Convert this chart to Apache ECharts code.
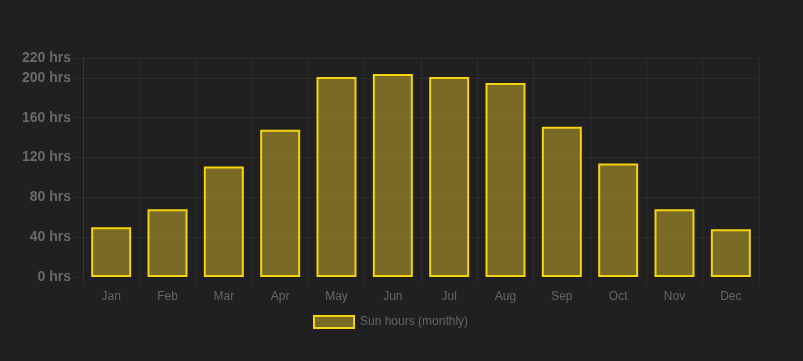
<!DOCTYPE html>
<html><head><meta charset="utf-8">
<script src="https://cdn.jsdelivr.net/npm/echarts@6/dist/echarts.min.js"></script>
<style>html,body{margin:0;padding:0;background:#202020;}#c{width:803px;height:361px;}</style>
</head><body><div id="c"></div>
<script>
const months = ['Jan','Feb','Mar','Apr','May','Jun','Jul','Aug','Sep','Oct','Nov','Dec'];
const sunHours = [50, 68, 111, 148, 201, 204, 201, 195, 151, 114, 68, 48];
const seriesName = 'Sun hours (monthly)';
const yMin = 0, yMax = 220, yInterval = 40;

const chart = echarts.init(document.getElementById('c'), null, {renderer:'canvas'});
const gridColor = 'rgba(255,255,255,0.05)';
chart.setOption({
  backgroundColor: '#202020',
  animation: false,
  textStyle: {fontFamily: 'Arial, "Liberation Sans", sans-serif'},
  grid: {left: 83, right: 44, top: 58, bottom: 84},
  legend: {
    top: 310, left: 308, itemWidth: 40, itemHeight: 12, itemGap: 10,
    textStyle: {color: '#666', fontSize: 12, padding: [0,0,0,1]},
    data: [{name: seriesName, icon: 'rect'}]
  },
  xAxis: {
    type: 'category', data: months,
    axisLine: {show: true, lineStyle: {color: 'rgba(0,0,0,0.35)'}},
    axisTick: {show: true, length: 7, lineStyle: {color: gridColor}},
    splitLine: {show: true, lineStyle: {color: gridColor}},
    axisLabel: {color: '#666', fontSize: 12, margin: 14}
  },
  yAxis: {
    type: 'value', min: yMin, max: yMax, interval: yInterval,
    axisLine: {show: true, lineStyle: {color: gridColor}},
    axisTick: {show: true, length: 9, lineStyle: {color: gridColor}},
    splitLine: {show: true, lineStyle: {color: gridColor}},
    axisLabel: {color: '#6a6a6a', fontSize: 14, fontWeight: 'bold', margin: 12,
      formatter: v => v + ' hrs'}
  },
  series: [{
    name: seriesName, type: 'bar', data: sunHours,
    barCategoryGap: '29%',
    itemStyle: {color: 'rgba(255,220,45,0.4)', borderColor: '#f5d30f', borderWidth: 2}
  }]
});
</script></body></html>
